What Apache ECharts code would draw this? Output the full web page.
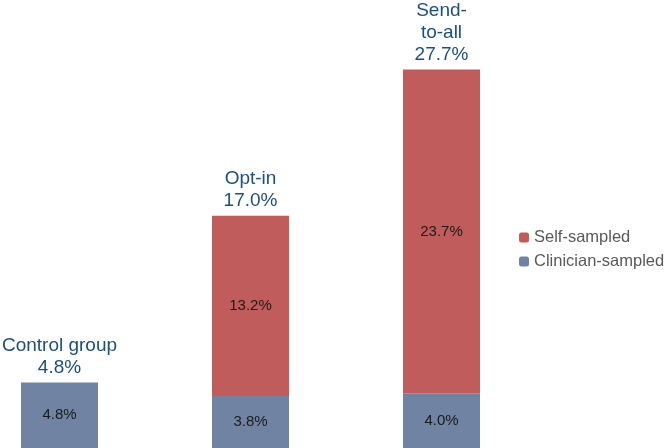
<!DOCTYPE html>
<html>
<head>
<meta charset="utf-8">
<style>
  html, body { margin: 0; padding: 0; background: #fff; }
  #chart { width: 665px; height: 448px; }
</style>
<script src="https://cdn.jsdelivr.net/npm/echarts@6/dist/echarts.min.js"></script>
</head>
<body>
<div id="chart"></div>
<script>
const categories = ['Control group', 'Opt-in', 'Send-to-all']
const groupLabels = ['Control group', 'Opt-in', 'Send-\nto-all']
const clinicianSampled = [4.8, 3.8, 4.0]
const selfSampled = [0, 13.2, 23.7]
const totals = [4.8, 17.0, 27.7]

const font = '"Liberation Sans", Arial, Helvetica, sans-serif'
const chart = echarts.init(document.getElementById('chart'))

const insideLabel = {
  show: true,
  position: 'inside',
  color: '#1a1a1a',
  fontSize: 15,
  fontFamily: font,
  formatter: p => (p.value > 0 ? p.value.toFixed(1) + '%' : '')
}

chart.setOption({
  animation: false,
  backgroundColor: '#fff',
  grid: { left: 59.5, width: 382, top: 38, bottom: 0 },
  legend: {
    orient: 'vertical',
    left: 514,
    top: 224,
    itemWidth: 10,
    itemHeight: 10,
    itemGap: 7,
    data: ['Self-sampled', 'Clinician-sampled'],
    textStyle: { color: '#595959', fontSize: 16.5, fontFamily: font }
  },
  xAxis: {
    type: 'category',
    data: categories,
    boundaryGap: false,
    show: false
  },
  yAxis: {
    type: 'value',
    min: 0,
    max: 30,
    show: false
  },
  series: [
    {
      name: 'Clinician-sampled',
      type: 'bar',
      stack: 'total',
      barWidth: 77,
      data: clinicianSampled,
      itemStyle: { color: '#7083a3' },
      label: insideLabel
    },
    {
      name: 'Self-sampled',
      type: 'bar',
      stack: 'total',
      barWidth: 77,
      data: selfSampled,
      itemStyle: { color: '#c05c5b' },
      label: insideLabel
    },
    {
      name: 'Total',
      type: 'bar',
      stack: 'total',
      barWidth: 77,
      data: totals.map(() => 0),
      itemStyle: { color: 'transparent' },
      label: {
        show: true,
        position: 'top',
        distance: 4,
        color: '#1d4f7c',
        fontSize: 19,
        lineHeight: 22,
        fontFamily: font,
        formatter: p => groupLabels[p.dataIndex] + '\n' + totals[p.dataIndex].toFixed(1) + '%'
      }
    }
  ]
})
</script>
</body>
</html>
